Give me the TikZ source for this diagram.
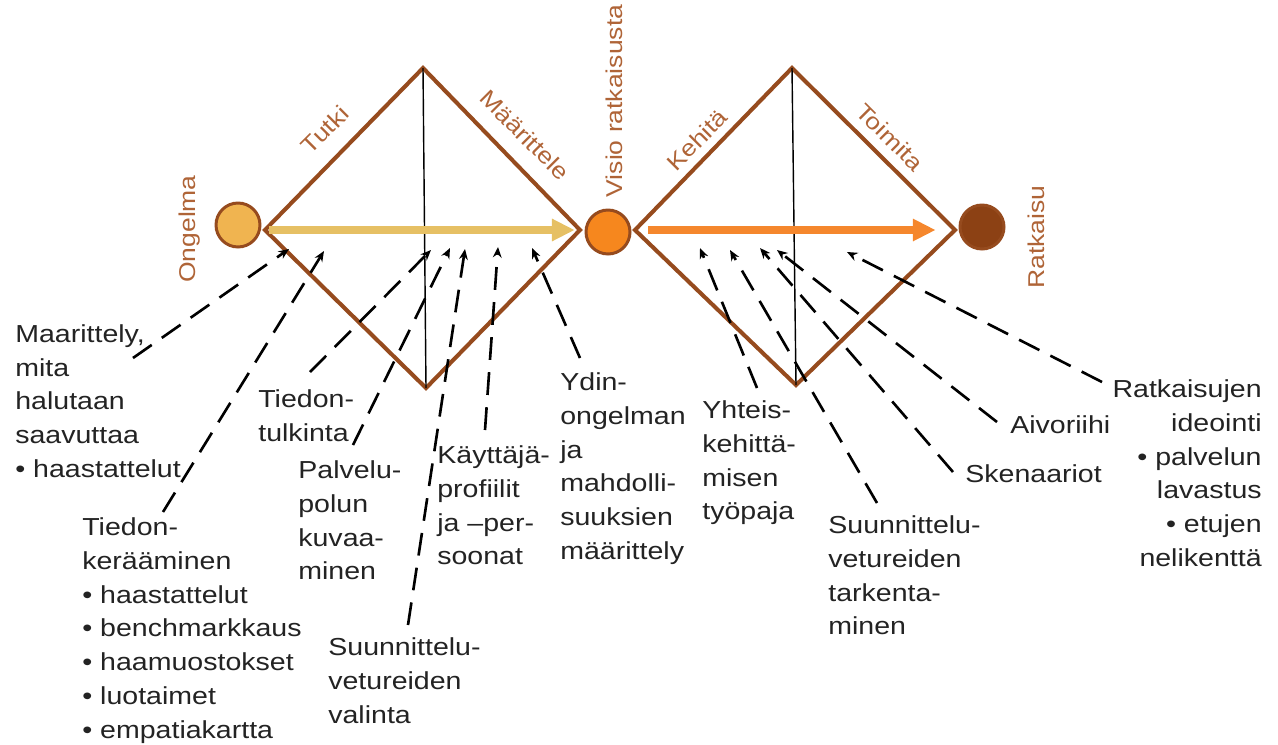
\documentclass[tikz,border=0pt]{standalone}
\usepackage{fontspec}
\setmainfont[FakeStretch=1.16]{Liberation Sans}
\usetikzlibrary{arrows.meta}
\definecolor{rim}{RGB}{150,75,30}
\definecolor{tag}{RGB}{175,100,55}
\definecolor{txt}{RGB}{35,35,35}
\definecolor{ongfill}{RGB}{240,180,80}
\definecolor{visfill}{RGB}{246,135,30}
\definecolor{ratfill}{RGB}{140,65,20}
\definecolor{flowa}{RGB}{230,192,100}
\definecolor{flowb}{RGB}{245,135,45}
\tikzset{diagram/.style={x=0.02cm,y=-0.02cm}}
\tikzset{phase/.style={draw=rim,line width=2.3pt,line join=miter}}
\tikzset{axis/.style={line width=0.8pt}}
\tikzset{stage/.style={circle,draw=rim,line width=1.7pt,minimum size=0.88cm,inner sep=0pt}}
\tikzset{flow/.style={line width=4.5pt,-{Triangle[length=13pt,width=12pt]}}}
\tikzset{side/.style={text=tag,inner sep=0pt,font=\fontsize{13}{15}\selectfont}}
\tikzset{note/.style={text=txt,inner sep=0pt,anchor=north west,align=left,font=\fontsize{14}{19.3}\selectfont}}
\tikzset{hint/.style={-{Stealth[length=6pt,width=5pt]},line width=1.5pt,dash pattern=on 13pt off 7pt}}

\begin{document}
\begin{tikzpicture}[diagram]
  \useasboundingbox (0,0) rectangle (1278,744);
  % the two diamonds
  \coordinate (l1) at (265,230); \coordinate (t1) at (423,68);
  \coordinate (r1) at (580,230); \coordinate (b1) at (426,388);
  \coordinate (l2) at (635,230); \coordinate (t2) at (792,68);
  \coordinate (r2) at (955,230); \coordinate (b2) at (796,385);
  \draw[phase] (l1) -- (t1) -- (r1) -- (b1) -- cycle;
  \draw[phase] (l2) -- (t2) -- (r2) -- (b2) -- cycle;
  \draw[axis] (t1) -- (b1);
  \draw[axis] (t2) -- (b2);
  \draw[flow,flowa,shorten <=2pt,shorten >=3pt] (l1) -- (r1);
  \draw[flow,flowb,shorten <=7.5pt,shorten >=11pt] (l2) -- (r2);

  \node[stage,fill=ongfill] (ong) at (238,225) {};
  \node[stage,fill=visfill] (vis) at (608,232) {};
  \node[stage,fill=ratfill] (rat) at (982,227) {};
  \node[side,rotate=90] (ongl) at (190,229) {Ongelma};
  \node[side,rotate=90] (visl) at (614,101) {Visio ratkaisusta};
  \node[side,rotate=90] (ratl) at (1036,237) {Ratkaisu};
  \node[side,rotate=45] (tutki) at (325,130) {Tutki};
  \node[side,rotate=-45] (maar) at (525,135) {Määrittele};
  \node[side,rotate=45] (kehita) at (697,140) {Kehitä};
  \node[side,rotate=-45] (toimita) at (890,137) {Toimita};

  % methods
  \node[note] (tavoite) at (15,324) {Maarittely,\\mita\\halutaan\\saavuttaa\\• haastattelut};
  \node[note] (keruu) at (82,517) {Tiedon-\\kerääminen\\• haastattelut\\• benchmarkkaus\\• haamuostokset\\• luotaimet\\• empatiakartta};
  \node[note] (tulkinta) at (258,389) {Tiedon-\\tulkinta};
  \node[note] (polku) at (298,460) {Palvelu-\\polun\\kuvaa-\\minen};
  \node[note] (valinta) at (328,637) {Suunnittelu-\\vetureiden\\valinta};
  \node[note] (profiili) at (437,445) {Käyttäjä-\\profiilit\\ja –per-\\soonat};
  \node[note] (ydin) at (560,372) {Ydin-\\ongelman\\ja\\mahdolli-\\suuksien\\määrittely};
  \node[note] (paja) at (702,400) {Yhteis-\\kehittä-\\misen\\työpaja};
  \node[note] (tarkennus) at (828,515) {Suunnittelu-\\vetureiden\\tarkenta-\\minen};
  \node[note] (skenaario) at (965,464) {Skenaariot};
  \node[note] (aivo) at (1010,415) {Aivoriihi};
  \node[note,anchor=north east,align=right] (ideointi) at (1262,379)
    {Ratkaisujen\\ideointi\\• palvelun\\lavastus\\• etujen\\nelikenttä};

  \coordinate (f1) at (133,358);  \coordinate (h1) at (289,249);
  \coordinate (f2) at (163,512);  \coordinate (h2) at (324,251);
  \coordinate (f3) at (310,372);  \coordinate (h3) at (431,250);
  \coordinate (f4) at (353,445);  \coordinate (h4) at (450,248);
  \coordinate (f5) at (408,625);  \coordinate (h5) at (465,249);
  \coordinate (f6) at (485,430);  \coordinate (h6) at (498,247);
  \coordinate (f7) at (580,358);  \coordinate (h7) at (532,248);
  \coordinate (f8) at (757,388);  \coordinate (h8) at (700,248);
  \coordinate (f9) at (877,503);  \coordinate (h9) at (730,250);
  \coordinate (f10) at (953,472); \coordinate (h10) at (760,248);
  \coordinate (f11) at (997,422); \coordinate (h11) at (777,250);
  \coordinate (f12) at (1102,382); \coordinate (h12) at (847,252);
  \path[hint]
    (f1) edge (h1)   (f2) edge (h2)   (f3) edge (h3)
    (f4) edge (h4)   (f5) edge (h5)   (f6) edge (h6)
    (f7) edge (h7)   (f8) edge (h8)   (f9) edge (h9)
    (f10) edge (h10) (f11) edge (h11) (f12) edge (h12);
\end{tikzpicture}
\end{document}
